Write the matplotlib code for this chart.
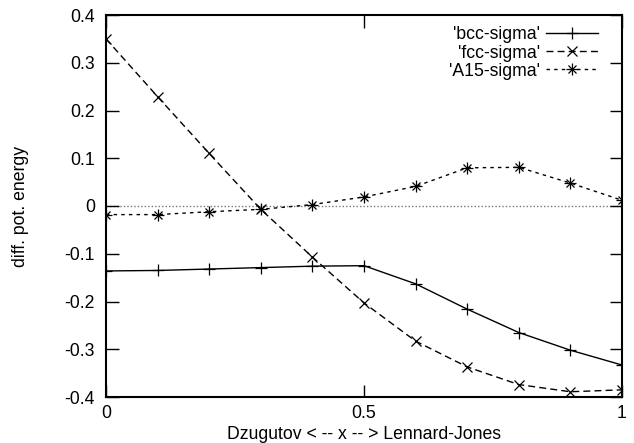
import matplotlib
matplotlib.use("Agg")
import matplotlib.pyplot as plt
from matplotlib.lines import Line2D

plt.rcParams['font.family'] = ['Liberation Sans', 'DejaVu Sans']

# mixing parameter: Dzugutov (0) ... Lennard-Jones (1)
x = [0.0, 0.1, 0.2, 0.3, 0.4, 0.5, 0.6, 0.7, 0.8, 0.9, 1.0]

bcc_sigma = [-0.136, -0.135, -0.132, -0.129, -0.126, -0.125,
             -0.163, -0.216, -0.265, -0.302, -0.333]
fcc_sigma = [0.350, 0.229, 0.110, -0.007, -0.107, -0.203,
             -0.283, -0.337, -0.374, -0.389, -0.385]
a15_sigma = [-0.018, -0.018, -0.012, -0.007, 0.003, 0.019,
             0.041, 0.080, 0.081, 0.048, 0.012]

x_ticks = [0, 0.5, 1]
x_tick_labels = ['0', '0.5', '1']
y_ticks = [-0.4, -0.3, -0.2, -0.1, 0, 0.1, 0.2, 0.3, 0.4]
y_tick_labels = ['-0.4', '-0.3', '-0.2', '-0.1', '0', '0.1', '0.2', '0.3', '0.4']

fig = plt.figure(figsize=(6.34, 4.43), dpi=100)
ax = fig.add_axes([106 / 634, 46 / 443, 516 / 634, 382 / 443])

fs = 12.7
dash_fcc = (0, (5, 3))
dash_a15 = (0, (2.5, 3))

# zero line
ax.axhline(0, color='#777777', linestyle=(0, (1, 1.5)), linewidth=1.0, zorder=1)

ax.plot(x, bcc_sigma, color='black', linewidth=1.0, marker='+',
        markersize=8, markeredgewidth=0.9)
ax.plot(x, fcc_sigma, color='black', linewidth=1.0, linestyle=dash_fcc,
        marker='x', markersize=7, markeredgewidth=0.9)
ax.plot(x, a15_sigma, color='black', linewidth=1.0, linestyle=dash_a15)
ax.plot(x, a15_sigma, color='black', linestyle='none', marker='+',
        markersize=8, markeredgewidth=0.9)
ax.plot(x, a15_sigma, color='black', linestyle='none', marker='x',
        markersize=6, markeredgewidth=0.9)

# legend handles (gnuplot style: line sample with marker in the middle)
h_bcc = Line2D([], [], color='black', linewidth=1.0, marker='+',
               markersize=8, markeredgewidth=0.9)
h_fcc = Line2D([], [], color='black', linewidth=1.0, linestyle=dash_fcc,
               marker='x', markersize=7, markeredgewidth=0.9)
h_a15_line = Line2D([], [], color='black', linewidth=1.0, linestyle=dash_a15)
h_a15_p = Line2D([], [], color='black', linestyle='none', marker='+',
                 markersize=8, markeredgewidth=0.9)
h_a15_x = Line2D([], [], color='black', linestyle='none', marker='x',
                 markersize=6, markeredgewidth=0.9)
ax.legend([h_bcc, h_fcc, (h_a15_line, h_a15_p, h_a15_x)],
          ["'bcc-sigma'", "'fcc-sigma'", "'A15-sigma'"],
          loc='upper right', bbox_to_anchor=(0.953, 0.970),
          markerfirst=False, frameon=False, fontsize=fs,
          handlelength=2.95, handletextpad=0.3, labelspacing=0.06,
          borderpad=0.0, borderaxespad=0.0, numpoints=1)

ax.set_xlim(0, 1)
ax.set_ylim(-0.4, 0.4)
ax.set_xticks(x_ticks)
ax.set_xticklabels(x_tick_labels)
ax.set_yticks(y_ticks)
ax.set_yticklabels(y_tick_labels)
ax.tick_params(direction='in', length=9, width=1.0, top=True, right=True,
               labelsize=fs, colors='black')
ax.tick_params(axis='x', pad=6)
ax.tick_params(axis='y', pad=8)
for s in ax.spines.values():
    s.set_linewidth(1.5)

ax.set_xlabel('Dzugutov < -- x -- > Lennard-Jones', fontsize=fs)
ax.set_ylabel('diff. pot. energy', fontsize=fs)
ax.xaxis.set_label_coords(0.5, -0.076)
ax.yaxis.set_label_coords(-0.15, 0.5)

fig.savefig('out.png', dpi=100)
